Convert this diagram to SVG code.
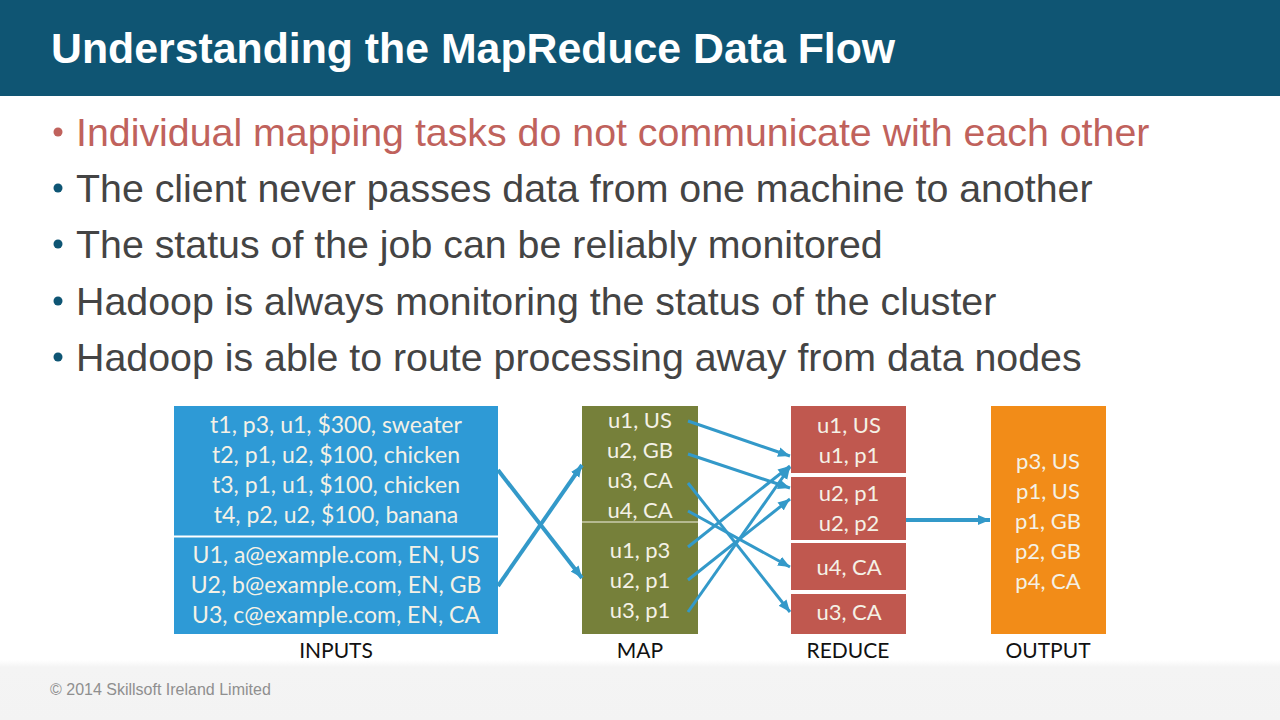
<svg xmlns="http://www.w3.org/2000/svg" width="1280" height="720" viewBox="0 0 1280 720">
<style>
.b{font-family:"Liberation Sans",Arial,sans-serif;font-size:39.330px;fill:#444444}
.r{fill:#c0625c}
.d{fill:#0e5574}
.t{font-family:Lato,"Open Sans",sans-serif;font-size:22px;fill:#f4f1e6;text-anchor:middle}
.i{font-size:23px}
.l{font-family:Lato,"Open Sans",sans-serif;font-size:21px;fill:#111111;text-anchor:middle}
.c{fill:none;stroke:#3399c9;stroke-width:3}
.w{stroke-width:4}
</style>
<defs>
<marker id="a" markerUnits="userSpaceOnUse" markerWidth="14" markerHeight="14" refX="12" refY="7" orient="auto"><path d="M0 2 L12 7 L0 12 Z" fill="#3399c9"/></marker>
<linearGradient id="f" x1="0" y1="0" x2="0" y2="1"><stop offset="0" stop-color="#ffffff"/><stop offset="0.12" stop-color="#f4f4f4"/><stop offset="1" stop-color="#f3f3f3"/></linearGradient>
</defs>
<rect width="1280" height="720" fill="#ffffff"/>
<rect y="660" width="1280" height="60" fill="url(#f)"/>
<rect width="1280" height="96" fill="#0f5573"/>
<text x="51" y="63" font-family="Liberation Sans,Arial,sans-serif" font-weight="700" font-size="42.800px" fill="#ffffff">Understanding the MapReduce Data Flow</text>
<g id="bullets">
<circle class="r" cx="58" cy="132" r="4.500"/><text class="b r" x="76" y="146">Individual mapping tasks do not communicate with each other</text>
<circle class="d" cx="58" cy="188" r="4.500"/><text class="b" x="76" y="202">The client never passes data from one machine to another</text>
<circle class="d" cx="58" cy="244" r="4.500"/><text class="b" x="76" y="258">The status of the job can be reliably monitored</text>
<circle class="d" cx="58" cy="301" r="4.500"/><text class="b" x="76" y="315">Hadoop is always monitoring the status of the cluster</text>
<circle class="d" cx="58" cy="357" r="4.500"/><text class="b" x="76" y="371">Hadoop is able to route processing away from data nodes</text>
</g>
<g id="inputs">
<rect x="174" y="406" width="324" height="228" fill="#2e9ad6"/>
<rect x="174" y="535.500" width="324" height="2" fill="#ffffff"/>
<text class="t i" x="336" y="433">t1, p3, u1, $300, sweater</text>
<text class="t i" x="336" y="463">t2, p1, u2, $100, chicken</text>
<text class="t i" x="336" y="493">t3, p1, u1, $100, chicken</text>
<text class="t i" x="336" y="523">t4, p2, u2, $100, banana</text>
<text class="t i" x="336" y="563">U1, a@example.com, EN, US</text>
<text class="t i" x="336" y="593">U2, b@example.com, EN, GB</text>
<text class="t i" x="336" y="623">U3, c@example.com, EN, CA</text>
<text class="l" x="336" y="658">INPUTS</text>
</g>
<g id="map">
<rect x="582" y="406" width="116" height="228" fill="#76803a"/>
<rect x="582" y="521.500" width="116" height="1" fill="#f4f1e6"/>
<text class="t" x="640" y="428">u1, US</text>
<text class="t" x="640" y="458">u2, GB</text>
<text class="t" x="640" y="488">u3, CA</text>
<text class="t" x="640" y="518">u4, CA</text>
<text class="t" x="640" y="558">u1, p3</text>
<text class="t" x="640" y="588">u2, p1</text>
<text class="t" x="640" y="618">u3, p1</text>
<text class="l" x="640" y="658">MAP</text>
</g>
<g id="reduce">
<rect x="791" y="406" width="115" height="67" fill="#c0584f"/>
<rect x="791" y="477" width="115" height="63" fill="#c0584f"/>
<rect x="791" y="543" width="115" height="47" fill="#c0584f"/>
<rect x="791" y="594" width="115" height="40" fill="#c0584f"/>
<text class="t" x="849" y="433">u1, US</text>
<text class="t" x="849" y="463">u1, p1</text>
<text class="t" x="849" y="501">u2, p1</text>
<text class="t" x="849" y="531">u2, p2</text>
<text class="t" x="849" y="575">u4, CA</text>
<text class="t" x="849" y="620">u3, CA</text>
<text class="l" x="848" y="658">REDUCE</text>
</g>
<g id="output">
<rect x="991" y="406" width="115" height="228" fill="#f28c18"/>
<text class="t" x="1048" y="469">p3, US</text>
<text class="t" x="1048" y="499">p1, US</text>
<text class="t" x="1048" y="529">p1, GB</text>
<text class="t" x="1048" y="559">p2, GB</text>
<text class="t" x="1048" y="589">p4, CA</text>
<text class="l" x="1048" y="658">OUTPUT</text>
</g>
<g id="connectors">
<line class="c w" x1="498" y1="470" x2="582" y2="578" marker-end="url(#a)"/>
<line class="c w" x1="498" y1="586" x2="582" y2="465" marker-end="url(#a)"/>
<line class="c" x1="688" y1="421" x2="790" y2="456" marker-end="url(#a)"/>
<line class="c" x1="688" y1="454" x2="790" y2="488" marker-end="url(#a)"/>
<line class="c" x1="688" y1="483" x2="790" y2="612" marker-end="url(#a)"/>
<line class="c" x1="688" y1="511" x2="790" y2="567" marker-end="url(#a)"/>
<line class="c" x1="688" y1="547" x2="790" y2="466" marker-end="url(#a)"/>
<line class="c" x1="688" y1="580" x2="790" y2="499" marker-end="url(#a)"/>
<line class="c" x1="688" y1="612" x2="790" y2="467" marker-end="url(#a)"/>
<line class="c w" x1="906" y1="520" x2="990" y2="520" marker-end="url(#a)"/>
</g>
<text x="50" y="695" font-family="Liberation Sans,Arial,sans-serif" font-size="16px" fill="#8f8f8f">© 2014 Skillsoft Ireland Limited</text>
</svg>
